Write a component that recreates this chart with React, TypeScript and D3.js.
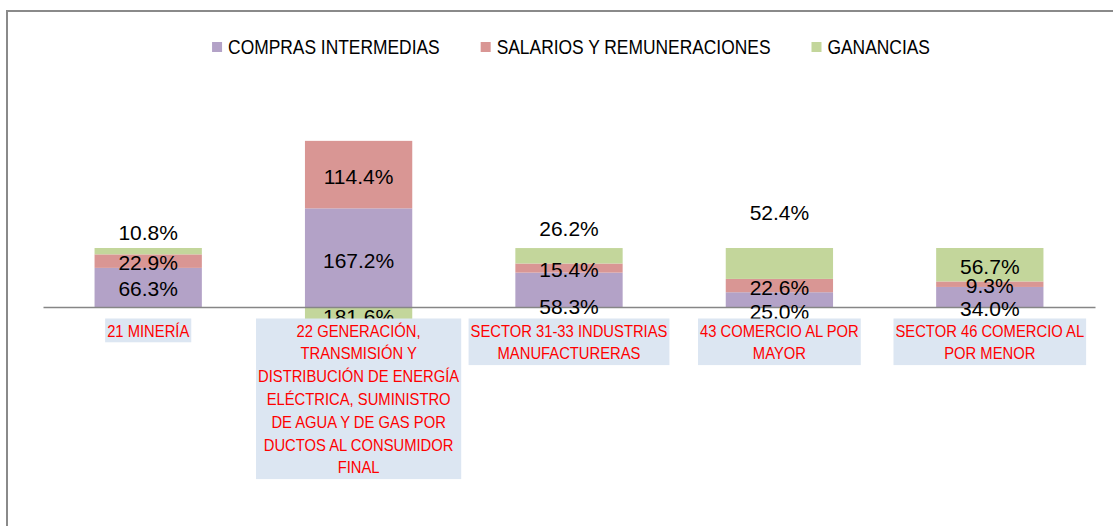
import * as d3 from "d3";
import React, { useEffect, useRef } from "react";

// categories (already wrapped the way the chart shows them)
const categories: string[][] = [
  ["21 MINERÍA"],
  [
    "22 GENERACIÓN,",
    "TRANSMISIÓN Y",
    "DISTRIBUCIÓN DE ENERGÍA",
    "ELÉCTRICA, SUMINISTRO",
    "DE AGUA Y DE GAS POR",
    "DUCTOS AL CONSUMIDOR",
    "FINAL",
  ],
  ["SECTOR 31-33 INDUSTRIAS", "MANUFACTURERAS"],
  ["43 COMERCIO AL POR", "MAYOR"],
  ["SECTOR 46 COMERCIO AL", "POR MENOR"],
];

const seriesNames = ["COMPRAS INTERMEDIAS", "SALARIOS Y REMUNERACIONES", "GANANCIAS"];
const compras = [66.3, 167.2, 58.3, 25.0, 34.0];
const salarios = [22.9, 114.4, 15.4, 22.6, 9.3];
const ganancias = [10.8, -181.6, 26.2, 52.4, 56.7];
const yDomain: [number, number] = [-200, 300];

const colors = ["#B3A2C7", "#D99694", "#C3D69B"];
// manual nudges (px) of data labels, as they were dragged in the original
const labelNudge = [
  [0, 0, -20],
  [1, 1, -45],
  [15, 0, -29],
  [11, 1, -52],
  [10, 0, 0],
];

const W = 1113;
const H = 526;

const App: React.FC = () => {
  const svgRef = useRef<SVGSVGElement | null>(null);

  useEffect(() => {
    if (!svgRef.current) return;
    const svg = d3.select(svgRef.current);
    svg.selectAll("*").remove();

    const font = "'Liberation Sans', Arial, sans-serif";

    // Scales
    const x = d3
      .scaleBand<number>()
      .domain(d3.range(categories.length))
      .range([43, 1095])
      .paddingInner(0.49)
      .paddingOuter(0.245);

    const y = d3.scaleLinear().domain(yDomain).range([425, 130]);

    const rows = categories.map((_, i) => ({
      compras: compras[i],
      salarios: salarios[i],
      ganancias: ganancias[i],
    }));
    const keys = ["compras", "salarios", "ganancias"];
    const stacked = d3
      .stack<any>()
      .keys(keys)
      .offset(d3.stackOffsetDiverging)(rows);

    // background + frame
    svg.append("rect").attr("width", W).attr("height", H).attr("fill", "#fff");
    svg
      .append("rect")
      .attr("x", 7)
      .attr("y", 11)
      .attr("width", W + 50)
      .attr("height", H + 50)
      .attr("fill", "none")
      .attr("stroke", "#8a8a8a")
      .attr("stroke-width", 2);

    // === Bars ===
    stacked.forEach((layer, s) => {
      svg
        .append("g")
        .selectAll("rect")
        .data(layer)
        .enter()
        .append("rect")
        .attr("x", (_, i) => x(i)!)
        .attr("y", (d) => y(d[1]))
        .attr("width", x.bandwidth())
        .attr("height", (d) => y(d[0]) - y(d[1]))
        .attr("fill", colors[s]);
    });

    // === Axis line ===
    svg
      .append("g")
      .attr("transform", `translate(0,${y(0)})`)
      .call(d3.axisBottom(x).tickSize(0).tickFormat(() => ""))
      .call((g) => g.select(".domain").attr("stroke", "#868686").attr("stroke-width", 1.6));

    // === Data labels ===
    const fmt = d3.format(".1f");
    stacked.forEach((layer, s) => {
      svg
        .append("g")
        .selectAll("text")
        .data(layer)
        .enter()
        .append("text")
        .attr("x", (_, i) => x(i)! + x.bandwidth() / 2)
        .attr("y", (d, i) => (y(d[0]) + y(d[1])) / 2 + 1.5 + labelNudge[i][s])
        .attr("dy", "0.35em")
        .attr("text-anchor", "middle")
        .attr("font-family", font)
        .attr("font-size", 21)
        .attr("fill", "#000")
        .text((d) => `${fmt(Math.abs(d[1] - d[0]))}%`);
    });

    // === Category labels (boxed) ===
    // condensed a bit horizontally to get closer to the original narrow face
    const squeeze = 0.87;
    const lineH = 22.8;
    const boxTop = 318.5;
    categories.forEach((lines, i) => {
      const cx = x(i)! + x.bandwidth() / 2;
      const g = svg.append("g");
      const txt = g
        .selectAll("text")
        .data(lines)
        .enter()
        .append("text")
        .attr("transform", (_, k) => `translate(${cx},${boxTop + 18 + k * lineH}) scale(${squeeze},1)`)
        .attr("text-anchor", "middle")
        .attr("font-family", font)
        .attr("font-size", 17)
        .attr("fill", "#FF0000")
        .text((d) => d);
      let maxW = 0;
      txt.each(function () {
        maxW = Math.max(maxW, (this as SVGTextElement).getComputedTextLength() * squeeze);
      });
      g.insert("rect", "text")
        .attr("x", cx - maxW / 2 - 2)
        .attr("y", boxTop)
        .attr("width", maxW + 4)
        .attr("height", lines.length * lineH + 1)
        .attr("fill", "#DCE6F2");
    });

    // === Legend ===
    const legend = svg.append("g");
    let lx = 0;
    seriesNames.forEach((name, s) => {
      const item = legend.append("g").attr("transform", `translate(${lx},0)`);
      item
        .append("rect")
        .attr("x", 0)
        .attr("y", -5)
        .attr("width", 10)
        .attr("height", 10)
        .attr("fill", colors[s]);
      const t = item
        .append("text")
        .attr("transform", `translate(16,0) scale(${squeeze},1)`)
        .attr("dy", "0.35em")
        .attr("font-family", font)
        .attr("font-size", 20)
        .attr("fill", "#000")
        .text(name);
      const tw = (t.node() as SVGTextElement).getComputedTextLength() * squeeze;
      lx += 16 + tw + 41;
    });
    const legendW = lx - 41;
    legend.attr("transform", `translate(${571 - legendW / 2},47)`);
  }, []);

  return (
    <svg
      ref={svgRef}
      width={W}
      height={H}
      style={{ position: "absolute", left: 0, top: 0, display: "block" }}
    ></svg>
  );
};

export default App;
